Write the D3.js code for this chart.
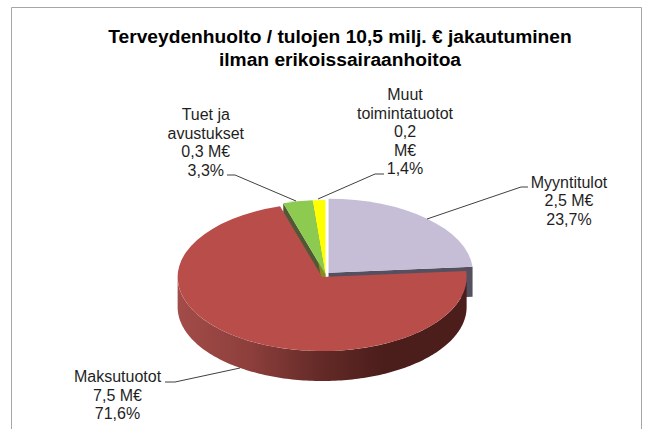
<!DOCTYPE html>
<html>
<head>
<meta charset="utf-8">
<script src="https://cdn.jsdelivr.net/npm/d3@7"></script>
<style>
  html, body { margin: 0; background: #fff; }
  text { font-family: "Liberation Sans", Arial, sans-serif; fill: #1f1f1f; }
</style>
</head>
<body>
<div id="chart"></div>
<script>
// Arvot luettu kuvasta
const categories = ["Myyntitulot", "Maksutuotot", "Tuet ja avustukset", "Muut toimintatuotot"];
const meur = [2.5, 7.5, 0.3, 0.2];
const shares = [23.7, 71.6, 3.3, 1.4];
const titleLines = ["Terveydenhuolto / tulojen 10,5 milj. € jakautuminen", "ilman erikoissairaanhoitoa"];

const width = 646, height = 429;
const comma = s => s.replace(".", ",");
const fmtM = d3.format(".1f");

const svg = d3.select("#chart").append("svg")
  .attr("width", width).attr("height", height)
  .style("display", "block");

// kehys
svg.append("path")
  .attr("d", "M11.5,429V7.5H641.5V429")
  .attr("fill", "none").attr("stroke", "#a6a6a6").attr("stroke-width", 1);

svg.selectAll("text.title").data(titleLines).enter().append("text")
  .attr("class", "title")
  .attr("x", 340).attr("y", (d, i) => 43 + i * 23)
  .attr("text-anchor", "middle")
  .style("font-size", "19.2px").style("font-weight", "bold")
  .style("fill", "#000")
  .text(d => d);

// piirakan geometria
const rx = 144.5, ry = 74, depth = 30;
const cx = 325.5, cy = 274.5;
const explode = [4.5, 6, 1, 1];
const sliceFill = ["#c6bdd6", "#b94d4a", "#8ccb50", "#ffff00"];
const wallFill = ["#55505f", "url(#redWall)", "#4f5a35", "#8a8a20"];

const pie = d3.pie().sort(null).value(d => d)(shares);
const slices = pie.map((p, i) => {
  const mid = (p.startAngle + p.endAngle) / 2;
  return {
    ...p, i,
    x: cx + explode[i] * Math.sin(mid),
    y: cy - explode[i] * Math.cos(mid) * ry / rx
  };
});

const defs = svg.append("defs");
const grad = defs.append("linearGradient").attr("id", "redWall")
  .attr("gradientUnits", "userSpaceOnUse")
  .attr("x1", 177).attr("x2", 466).attr("y1", 0).attr("y2", 0);
[[0, "#a34c49"], [0.25, "#8d3f3c"], [0.5, "#632a27"], [0.72, "#4b1d1b"], [1, "#4b1d1b"]]
  .forEach(s => grad.append("stop").attr("offset", s[0]).attr("stop-color", s[1]));

const rim = (s, a) => [s.x + rx * Math.sin(a), s.y - ry * Math.cos(a)];
const lineGen = d3.line();

// seinämät ensin, kannet päälle
const order = [0, 2, 3, 1];
const gWalls = svg.append("g");
order.forEach(i => {
  const s = slices[i];
  let pts;
  if (i === 1) {
    // punaisen ulkoreuna näkyvältä puolelta
    const arcPts = d3.range(Math.PI / 2, Math.PI * 1.5, 0.02).concat(Math.PI * 1.5).map(a => rim(s, a));
    pts = arcPts.concat(arcPts.slice().reverse().map(p => [p[0], p[1] + depth]));
  } else {
    const e = rim(s, i === 0 ? s.endAngle : s.startAngle);
    pts = [[s.x, s.y], e, [e[0], e[1] + depth], [s.x, s.y + depth]];
  }
  gWalls.append("path").attr("d", lineGen(pts) + "Z").attr("fill", wallFill[i]);
});

const arc = d3.arc().innerRadius(0).outerRadius(rx);
order.forEach(i => {
  const s = slices[i];
  svg.append("path")
    .attr("transform", `translate(${s.x},${s.y}) scale(1,${ry / rx})`)
    .attr("d", arc({ startAngle: s.startAngle, endAngle: s.endAngle }))
    .attr("fill", sliceFill[i]);
});

// selitteet
const labelLines = [
  [categories[0], comma(fmtM(meur[0])) + " M€", comma(shares[0].toFixed(1)) + "%"],
  [categories[1], comma(fmtM(meur[1])) + " M€", comma(shares[1].toFixed(1)) + "%"],
  ["Tuet ja", "avustukset", comma(fmtM(meur[2])) + " M€", comma(shares[2].toFixed(1)) + "%"],
  ["Muut", "toimintatuotot", comma(fmtM(meur[3])), "M€", comma(shares[3].toFixed(1)) + "%"]
];
const labelX = [569, 117.5, 205.8, 405];
const labelY = [187.5, 382, 120, 100];
const leaders = [
  [[528, 187], [521, 187], [427, 219]],
  [[165, 382], [175, 382], [240, 368]],
  [[227, 175], [235, 175], [296, 201]],
  [[384, 174], [375, 174], [318, 199]]
];

labelLines.forEach((lines, i) => {
  svg.append("g").selectAll("text").data(lines).enter().append("text")
    .attr("x", labelX[i])
    .attr("y", (d, j) => labelY[i] + j * 18.6)
    .attr("text-anchor", "middle")
    .style("font-size", "16px")
    .text(d => d);
  svg.append("path").attr("d", lineGen(leaders[i]))
    .attr("fill", "none").attr("stroke", "#404040").attr("stroke-width", 1);
});
</script>
</body>
</html>
